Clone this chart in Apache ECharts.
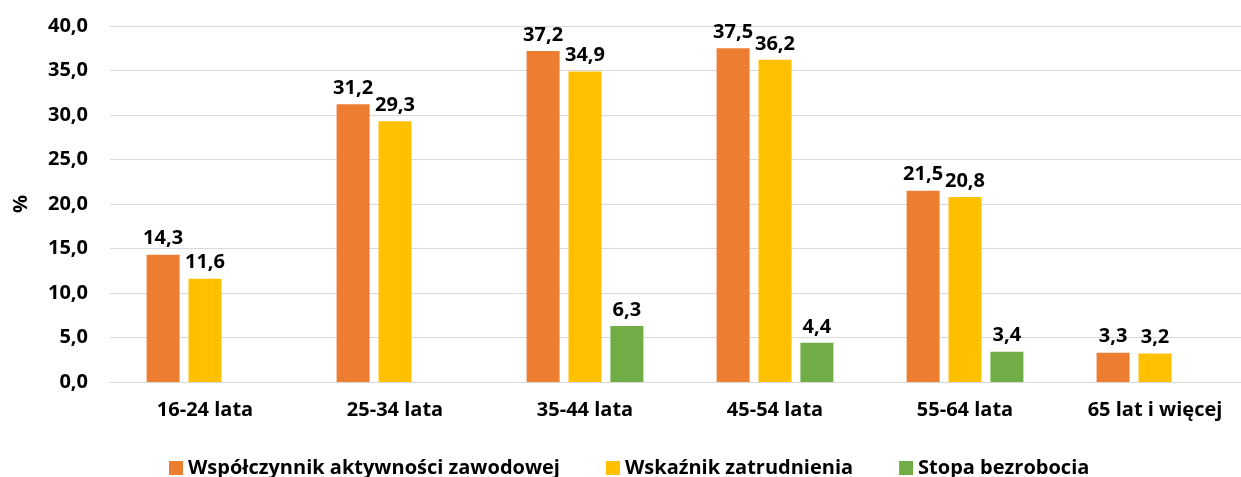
<!DOCTYPE html>
<html>
<head>
<meta charset="utf-8">
<script src="https://cdn.jsdelivr.net/npm/echarts@6/dist/echarts.min.js"></script>
<style>
  html, body { margin: 0; padding: 0; background: #fff; }
  #chart { width: 1241px; height: 477px; }
</style>
</head>
<body>
<div id="chart"></div>
<script>
const categories = ['16-24 lata', '25-34 lata', '35-44 lata', '45-54 lata', '55-64 lata', '65 lat i więcej']
const aktywnosc = [14.3, 31.2, 37.2, 37.5, 21.5, 3.3]
const zatrudnienie = [11.6, 29.3, 34.9, 36.2, 20.8, 3.2]
const bezrobocie = ['-', '-', 6.3, 4.4, 3.4, '-']
const seriesNames = ['Współczynnik aktywności zawodowej', 'Wskaźnik zatrudnienia', 'Stopa bezrobocia']

const font = '"Open Sans", "Noto Sans", sans-serif'
const fmt = (v) => Number(v).toFixed(1).replace('.', ',')

const label = {
  show: true,
  position: 'top',
  distance: 6,
  color: '#000',
  fontFamily: font,
  fontWeight: 'bold',
  fontSize: 20,
  formatter: (p) => fmt(p.value),
}

const chart = echarts.init(document.getElementById('chart'))
chart.setOption({
  animation: false,
  color: ['#ED7D31', '#FFC000', '#70AD47'],
  grid: { top: 26, left: 110, right: -9, bottom: 95, outerBoundsMode: 'none' },
  legend: {
    top: 453,
    left: 164,
    itemWidth: 14,
    itemHeight: 14,
    itemGap: 46,
    icon: 'rect',
    textStyle: { fontFamily: font, fontWeight: 'bold', fontSize: 20, color: '#000' },
    data: seriesNames,
  },
  xAxis: {
    type: 'category',
    data: categories,
    axisTick: { show: false },
    axisLine: { lineStyle: { color: '#d9d9d9', width: 1 } },
    axisLabel: { margin: 18, color: '#000', fontFamily: font, fontWeight: 'bold', fontSize: 20 },
  },
  yAxis: {
    type: 'value',
    min: 0,
    max: 40,
    interval: 5,
    name: '%',
    nameLocation: 'middle',
    nameGap: 79,
    nameTextStyle: { color: '#000', fontFamily: font, fontWeight: 'bold', fontSize: 20 },
    axisLabel: { margin: 22, color: '#000', fontFamily: font, fontWeight: 'bold', fontSize: 20, formatter: fmt },
    splitLine: { lineStyle: { color: '#d9d9d9', width: 1 } },
  },
  series: [
    { name: seriesNames[0], type: 'bar', data: aktywnosc, barWidth: 33, barGap: '27%', label: label },
    { name: seriesNames[1], type: 'bar', data: zatrudnienie, barWidth: 33, barGap: '27%', label: label },
    { name: seriesNames[2], type: 'bar', data: bezrobocie, barWidth: 33, barGap: '27%', label: label },
  ],
})
</script>
</body>
</html>
